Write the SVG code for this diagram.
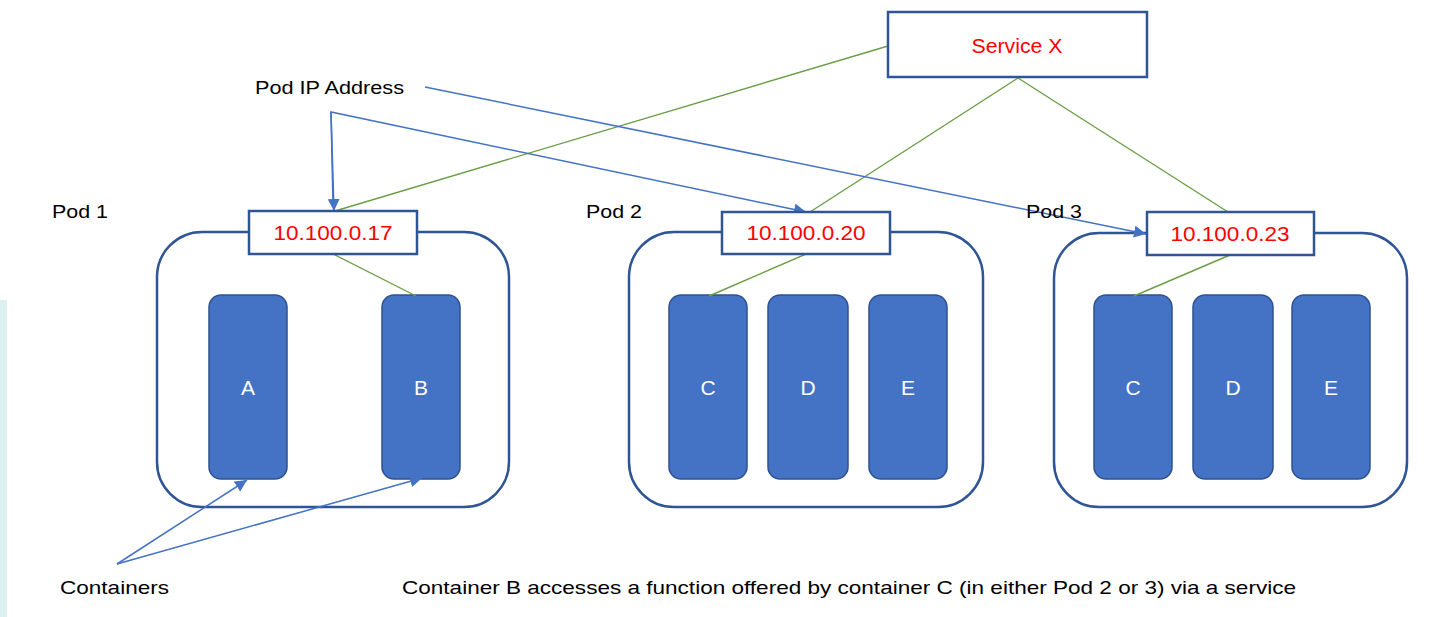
<svg xmlns="http://www.w3.org/2000/svg" width="1448" height="617" viewBox="0 0 1448 617">
<style>
.t{font-family:"Liberation Sans",Arial,sans-serif;font-size:19px;fill:#000}
.ip{font-family:"Liberation Sans",Arial,sans-serif;font-size:20px;fill:#FF0000;text-anchor:middle}
.cl{font-family:"Liberation Sans",Arial,sans-serif;font-size:21px;fill:#FFFFFF;text-anchor:middle}
.pod{fill:#FFFFFF;stroke:#2F5597;stroke-width:2.5}
.box{fill:#FFFFFF;stroke:#2F5597;stroke-width:2.5}
.ctr{fill:#4472C4;stroke:#2F528F;stroke-width:1.5}
.g{stroke:#6A9E45;stroke-width:1.4;fill:none}
.b{stroke:#4472C4;stroke-width:1.5;fill:none}
</style>
<defs>
<marker id="ahb" viewBox="0 0 10 10" refX="10" refY="5" markerWidth="12" markerHeight="12" markerUnits="userSpaceOnUse" orient="auto">
<path d="M0,0 L10,5 L0,10 z" fill="#4472C4"/>
</marker>
</defs>
<rect x="0" y="300" width="7" height="317" fill="#DDEFEF"/>

<g id="pod1">
<rect class="pod" x="157" y="232" width="352" height="275" rx="45"/>
<text class="t" x="52" y="218" textLength="56" lengthAdjust="spacingAndGlyphs">Pod 1</text>
</g>
<g id="pod2">
<rect class="pod" x="629" y="232" width="354" height="275" rx="45"/>
<text class="t" x="586" y="218" textLength="56" lengthAdjust="spacingAndGlyphs">Pod 2</text>
</g>
<g id="pod3">
<rect class="pod" x="1054" y="233" width="353" height="274" rx="45"/>
</g>

<g id="containerA"><rect class="ctr" x="209" y="295" width="78" height="184" rx="12"/><text class="cl" x="248" y="395">A</text></g>
<g id="containerB"><rect class="ctr" x="382" y="295" width="78" height="184" rx="12"/><text class="cl" x="421" y="395">B</text></g>
<g id="pod2C"><rect class="ctr" x="669" y="295" width="78" height="184" rx="12"/><text class="cl" x="708" y="395">C</text></g>
<g id="pod2D"><rect class="ctr" x="768" y="295" width="80" height="184" rx="12"/><text class="cl" x="808" y="395">D</text></g>
<g id="pod2E"><rect class="ctr" x="869" y="295" width="78" height="184" rx="12"/><text class="cl" x="908" y="395">E</text></g>
<g id="pod3C"><rect class="ctr" x="1094" y="295" width="78" height="184" rx="12"/><text class="cl" x="1133" y="395">C</text></g>
<g id="pod3D"><rect class="ctr" x="1193" y="295" width="80" height="184" rx="12"/><text class="cl" x="1233" y="395">D</text></g>
<g id="pod3E"><rect class="ctr" x="1292" y="295" width="78" height="184" rx="12"/><text class="cl" x="1331" y="395">E</text></g>

<g id="connectors">
<line class="g" x1="888" y1="46" x2="335" y2="211"/>
<line class="g" x1="1018" y1="78" x2="810" y2="212"/>
<line class="g" x1="1018" y1="78" x2="1228" y2="212"/>
<line class="g" x1="333" y1="254" x2="416" y2="296"/>
<line class="g" x1="806" y1="254" x2="709" y2="296"/>
<line class="g" x1="1230" y1="255" x2="1134" y2="296"/>
<line class="b" x1="425" y1="87" x2="1146" y2="234" marker-end="url(#ahb)"/>
<polyline class="b" points="333,204 331,112 806,212" marker-end="url(#ahb)"/>
<line class="b" x1="331" y1="112" x2="334" y2="211" marker-end="url(#ahb)"/>
<line class="b" x1="117" y1="564" x2="247" y2="480" marker-end="url(#ahb)"/>
<line class="b" x1="117" y1="564" x2="422" y2="478" marker-end="url(#ahb)"/>
</g>

<g id="pod3label"><text class="t" x="1026" y="218" textLength="56" lengthAdjust="spacingAndGlyphs">Pod 3</text></g>

<g id="ip1"><rect class="box" x="249" y="211" width="168" height="43"/><text class="ip" x="333" y="240" textLength="119" lengthAdjust="spacingAndGlyphs">10.100.0.17</text></g>
<g id="ip2"><rect class="box" x="722" y="212" width="168" height="42"/><text class="ip" x="806" y="240" textLength="119" lengthAdjust="spacingAndGlyphs">10.100.0.20</text></g>
<g id="ip3"><rect class="box" x="1147" y="212" width="167" height="43"/><text class="ip" x="1230" y="241" textLength="119" lengthAdjust="spacingAndGlyphs">10.100.0.23</text></g>

<g id="serviceX">
<rect class="box" x="888" y="12" width="259" height="65"/>
<text class="ip" x="1017" y="53" textLength="91" lengthAdjust="spacingAndGlyphs">Service X</text>
</g>

<g id="labels">
<text class="t" x="255" y="94" textLength="149" lengthAdjust="spacingAndGlyphs">Pod IP Address</text>
<text class="t" x="60" y="594" textLength="109" lengthAdjust="spacingAndGlyphs">Containers</text>
<text class="t" x="402" y="594" textLength="894" lengthAdjust="spacingAndGlyphs">Container B accesses a function offered by container C (in either Pod 2 or 3) via a service</text>
</g>
</svg>
